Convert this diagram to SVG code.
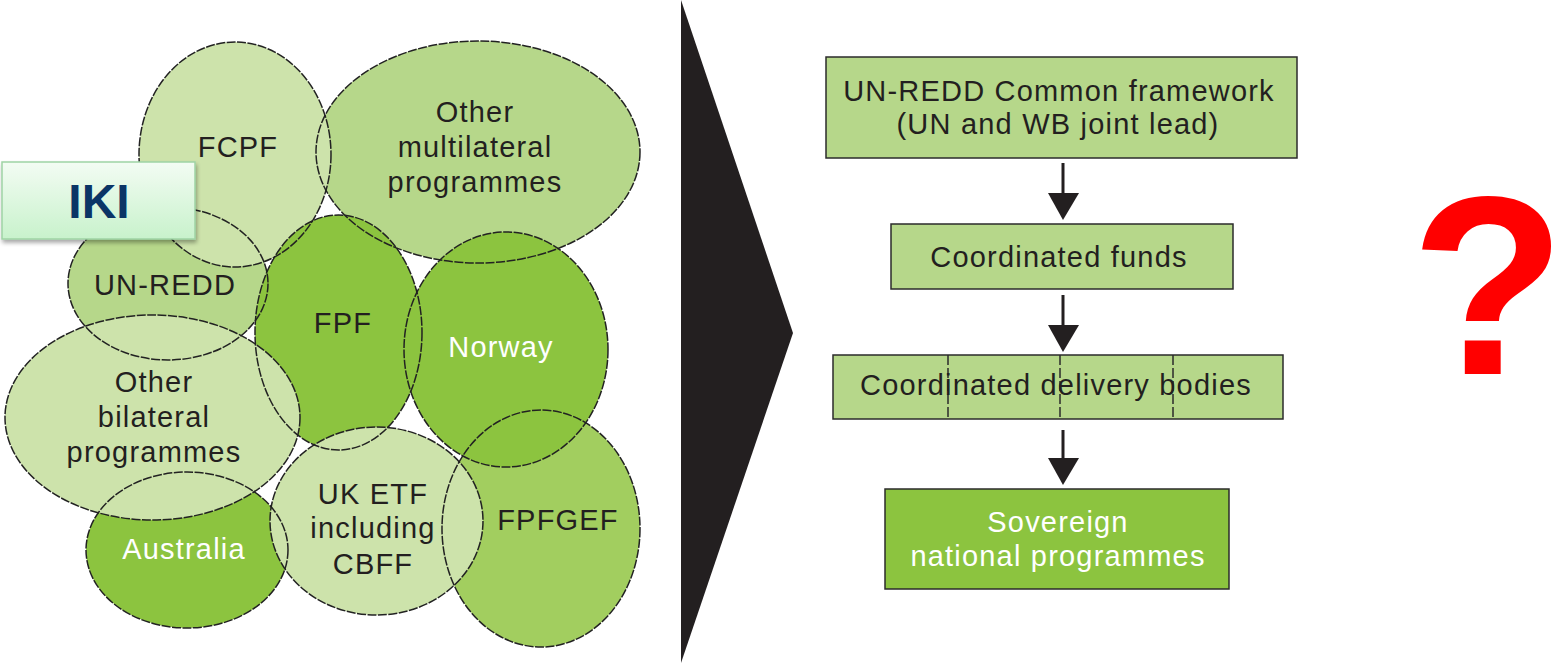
<svg xmlns="http://www.w3.org/2000/svg" width="1566" height="663" viewBox="0 0 1566 663">
<defs>
<style>
.e{stroke:#222222;stroke-width:1.5;stroke-dasharray:9 1.5;}
.lt{fill:#cde3ab;}
.md{fill:#b6d78a;}
.st{fill:#8cc43f;}
.gf{fill:#a2ce5f;}
.t{font-family:"Liberation Sans",Arial,sans-serif;font-size:29px;letter-spacing:1.2px;text-anchor:middle;fill:#231f20;}
.w{fill:#ffffff;}
.box{stroke:#2b2b2b;stroke-width:1.5;}
.arr{stroke:#231f20;stroke-width:3;}
.head{fill:#231f20;}
</style>
<linearGradient id="ikiG" x1="0" y1="0" x2="0" y2="1">
<stop offset="0" stop-color="#f3fcf3"/>
<stop offset="1" stop-color="#c8f2cc"/>
</linearGradient>
<filter id="sh" x="-10%" y="-10%" width="130%" height="140%">
<feGaussianBlur in="SourceAlpha" stdDeviation="2"/>
<feOffset dx="1" dy="3" result="b"/>
<feComponentTransfer><feFuncA type="linear" slope="0.35"/></feComponentTransfer>
<feMerge><feMergeNode/><feMergeNode in="SourceGraphic"/></feMerge>
</filter>
</defs>
<rect width="1566" height="663" fill="#ffffff"/>

<g id="fills">
<ellipse class="md" cx="478" cy="152" rx="162" ry="111"/>
<ellipse class="md" cx="168" cy="283.5" rx="100" ry="76.5"/>
<ellipse class="lt" cx="235" cy="154.5" rx="96" ry="112.5"/>
<ellipse class="st" cx="338.5" cy="332.5" rx="83.5" ry="117.5"/>
<ellipse class="gf" cx="541" cy="528.5" rx="99" ry="118.5"/>
<ellipse class="st" cx="506" cy="349.5" rx="102" ry="117.5"/>
<ellipse class="st" cx="187" cy="550" rx="101" ry="78"/>
<ellipse class="lt" cx="152.5" cy="417.5" rx="147.5" ry="102.5"/>
<ellipse class="lt" cx="376.5" cy="521" rx="106.5" ry="94"/>
</g>

<g id="node-multilateral">
<ellipse class="e" fill="none" cx="478" cy="152" rx="162" ry="111"/>
<text class="t" x="475" y="122">Other</text>
<text class="t" x="475" y="157">multilateral</text>
<text class="t" x="475" y="192">programmes</text>
</g>
<g id="node-unredd">
<ellipse class="e" fill="none" cx="168" cy="283.5" rx="100" ry="76.5"/>
<text class="t" x="165" y="295">UN-REDD</text>
</g>
<g id="node-fcpf">
<ellipse class="e" fill="none" cx="235" cy="154.5" rx="96" ry="112.5"/>
<text class="t" x="238" y="157">FCPF</text>
</g>
<g id="node-fpf">
<ellipse class="e" fill="none" cx="338.5" cy="332.5" rx="83.5" ry="117.5"/>
<text class="t" x="343" y="333">FPF</text>
</g>
<g id="node-fpfgef">
<ellipse class="e" fill="none" cx="541" cy="528.5" rx="99" ry="118.5"/>
<text class="t" x="558" y="530">FPFGEF</text>
</g>
<g id="node-norway">
<ellipse class="e" fill="none" cx="506" cy="349.5" rx="102" ry="117.5"/>
<text class="t w" x="501" y="357">Norway</text>
</g>
<g id="node-australia">
<ellipse class="e" fill="none" cx="187" cy="550" rx="101" ry="78"/>
<text class="t w" x="184" y="559">Australia</text>
</g>
<g id="node-bilateral">
<ellipse class="e" fill="none" cx="152.5" cy="417.5" rx="147.5" ry="102.5"/>
<text class="t" x="154" y="392">Other</text>
<text class="t" x="154" y="427">bilateral</text>
<text class="t" x="154" y="462">programmes</text>
</g>
<g id="node-uketf">
<ellipse class="e" fill="none" cx="376.5" cy="521" rx="106.5" ry="94"/>
<text class="t" x="373" y="504">UK ETF</text>
<text class="t" x="373" y="538">including</text>
<text class="t" x="373" y="574">CBFF</text>
</g>

<g id="node-iki">
<rect x="2" y="162" width="193" height="77" fill="url(#ikiG)" stroke="#9fd3a5" stroke-width="1.5" filter="url(#sh)"/>
<text x="99" y="218" font-family="Liberation Sans,Arial,sans-serif" font-size="48" font-weight="bold" text-anchor="middle" fill="#0b3566">IKI</text>
</g>

<g id="chevron">
<polygon points="681,0 793,333 681,663" fill="#231f20"/>
</g>

<g id="node-framework">
<rect class="box md" x="826" y="57" width="471" height="101"/>
<text class="t" x="1059" y="101">UN-REDD Common framework</text>
<text class="t" x="1058" y="134">(UN and WB joint lead)</text>
</g>
<g id="node-funds">
<rect class="box md" x="891" y="224" width="342" height="65"/>
<text class="t" x="1059" y="267">Coordinated funds</text>
</g>
<g id="node-delivery">
<rect class="box md" x="833" y="355" width="450" height="64"/>
<g stroke="#2b2b2b" stroke-width="1.5" stroke-dasharray="10 3">
<line x1="948" y1="355" x2="948" y2="419"/>
<line x1="1060" y1="355" x2="1060" y2="419"/>
<line x1="1173" y1="355" x2="1173" y2="419"/>
</g>
<text class="t" x="1056" y="395">Coordinated delivery bodies</text>
</g>
<g id="node-sovereign">
<rect class="box st" x="885" y="489" width="344" height="100"/>
<text class="t w" x="1058" y="532">Sovereign</text>
<text class="t w" x="1058" y="566">national programmes</text>
</g>

<g id="connectors">
<line class="arr" x1="1063" y1="163" x2="1063" y2="195"/>
<polygon class="head" points="1048,193 1079,193 1063,220"/>
<line class="arr" x1="1063" y1="295" x2="1063" y2="327"/>
<polygon class="head" points="1048,325 1079,325 1063,352"/>
<line class="arr" x1="1063" y1="430" x2="1063" y2="460"/>
<polygon class="head" points="1048,458 1079,458 1063,485"/>
</g>

<g id="question">
<text x="1488" y="374" font-family="Liberation Sans,Arial,sans-serif" font-size="254" font-weight="bold" text-anchor="middle" fill="#ff0000">?</text>
</g>
</svg>
